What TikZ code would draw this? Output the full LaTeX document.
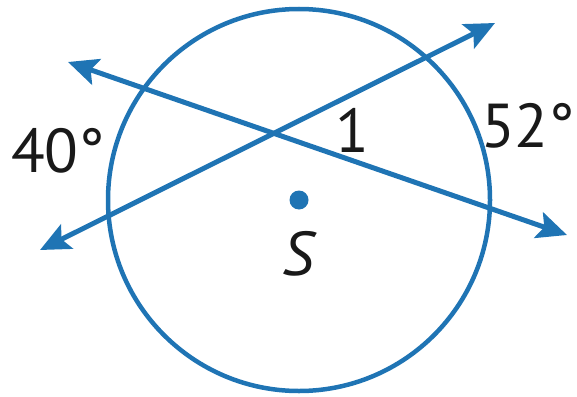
\documentclass[tikz,border=0pt]{standalone}
\usepackage{fontspec}
\setmainfont{PT Sans}
\usepackage{tikz}
\usetikzlibrary{arrows.meta}
\definecolor{geoblue}{HTML}{1F74B4}

\begin{document}
\begin{tikzpicture}[x=1pt,y=-1pt,
  rim/.style={draw=geoblue, line width=4.5pt},
  centre/.style={circle, fill=geoblue, minimum size=19pt, inner sep=0pt},
  secant/.style={geoblue, line width=5pt, {Stealth[length=30pt,width=27pt,inset=6pt]}-{Stealth[length=30pt,width=27pt,inset=6pt]}},
  lbl/.style={font=\fontsize{62}{62}\selectfont, text=black!90, inner sep=0pt, anchor=base}]
  \useasboundingbox (0,0) rectangle (577,396);
  % circle and its centre
  \node[centre] (S) at (299,200) {};
  \draw[rim] (S.center) circle[radius=191];
  % secants
  \coordinate (A1) at (40,250);
  \coordinate (A2) at (495,23);
  \coordinate (B1) at (68,62);
  \coordinate (B2) at (567,235);
  \draw[secant] (A1) -- (A2);
  \draw[secant] (B1) -- (B2);
  % labels
  \node[lbl] (arcL) at (58,172) {40°};
  \node[lbl] (arcR) at (528,147) {52°};
  \node[lbl] (ang) at (352,152) {1};
  \node[lbl, font=\fontsize{62}{62}\selectfont\itshape] (name) at (298,275) {S};
\end{tikzpicture}
\end{document}
